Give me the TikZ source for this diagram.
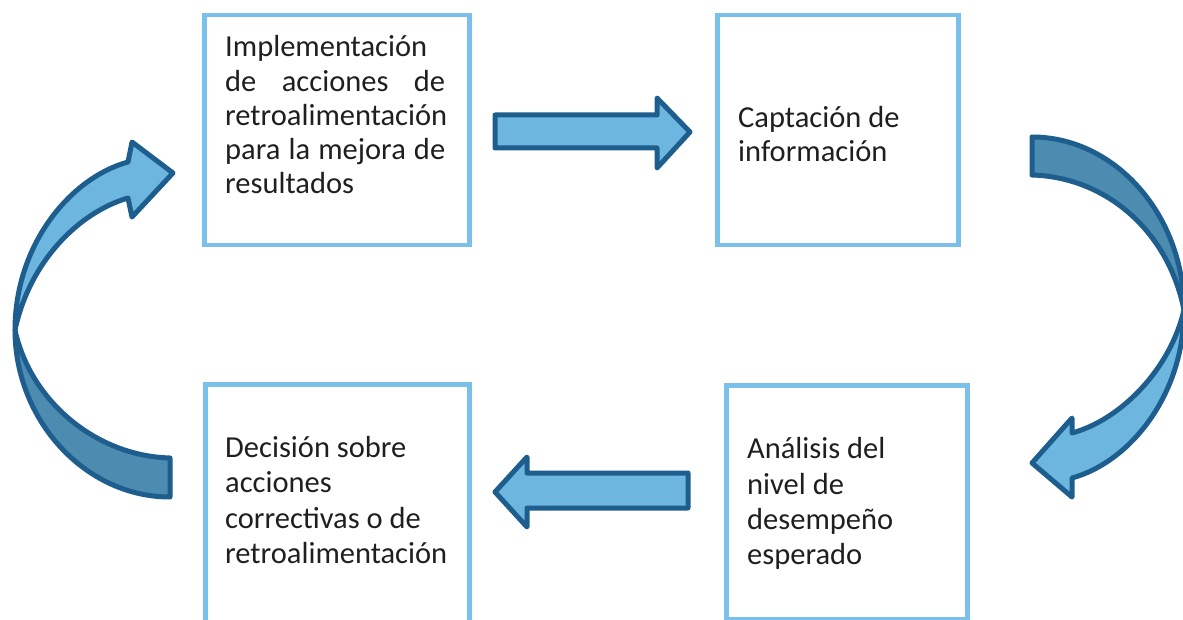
\documentclass[tikz,border=0pt]{standalone}
\usepackage{fontspec}
\setmainfont{Carlito}
\definecolor{boxblue}{RGB}{122,192,234}
\definecolor{arrline}{RGB}{30,94,142}
\definecolor{arrlight}{RGB}{108,182,224}
\definecolor{arrdark}{RGB}{76,140,176}
\begin{document}
\begin{tikzpicture}[x=1pt,y=-1pt,
  stepbox/.style={draw=boxblue,line width=4.5pt,anchor=north west,inner sep=0pt},
  txt/.style={anchor=base west,inner sep=0pt,font=\fontsize{30.5}{35}\selectfont,text=black!88},
  arr/.style={draw=arrline,line width=5pt,line join=round,fill=arrlight},
  arrd/.style={arr,fill=arrdark}]
\useasboundingbox (0,0) rectangle (1183,620);
\clip (0,0) rectangle (1183,620);

% boxes
\node[stepbox,minimum width=265pt,minimum height=230pt] (b1) at (202,13) {};
\node[stepbox,minimum width=241pt,minimum height=230pt] (b2) at (715,13) {};
\node[stepbox,minimum width=264pt,minimum height=260pt] (b3) at (203,382) {};
\node[stepbox,minimum width=241pt,minimum height=234pt] (b4) at (724,383) {};

% texts
\node[txt] (t1a) at (225,57) {Implementación};
\node[txt] (t1b) at (225,92) {\makebox[220pt][s]{de\hfill acciones\hfill de}};
\node[txt] (t1c) at (225,126) {retroalimentación};
\node[txt] (t1d) at (225,160) {\makebox[220pt][s]{para\hfill la\hfill mejora\hfill de}};
\node[txt] (t1e) at (225,194) {resultados};

\node[txt] (t2a) at (738,128) {Captación de};
\node[txt] (t2b) at (738,162) {información};

\node[txt] (t3a) at (225,457) {Decisión sobre};
\node[txt] (t3b) at (225,492) {acciones};
\node[txt] (t3c) at (225,528) {correctivas o de};
\node[txt] (t3d) at (225,563) {retroalimentación};

\node[txt] (t4a) at (747,458) {Análisis del};
\node[txt] (t4b) at (747,494) {nivel de};
\node[txt] (t4c) at (747,529) {desempeño};
\node[txt] (t4d) at (747,564) {esperado};

% straight arrows
\path[arr] (495,115) -- (657,115) -- (657,98) -- (690,132) -- (657,168) -- (657,148) -- (495,148) -- cycle;
\path[arr] (688,473) -- (527,473) -- (527,457) -- (495,492) -- (527,527) -- (527,508) -- (688,508) -- cycle;

% left curved arrow
\path[arrd] (15,330) .. controls (15,420) and (85,497) .. (170,497) -- (170,458)
  .. controls (95,456) and (30,400) .. (15,330) -- cycle;
\path[arr] (128,162) -- (132,142) -- (173,173) -- (132,217) -- (128,198)
  .. controls (80,212) and (30,260) .. (15,330)
  .. controls (15,245) and (70,178) .. (128,162) -- cycle;

% right curved arrow
\path[arrd] (1032,137) .. controls (1115,137) and (1184,215) .. (1184,310)
  .. controls (1168,230) and (1105,177) .. (1032,175) -- cycle;
\path[arr] (1184,310) .. controls (1184,395) and (1130,462) .. (1072,478)
  -- (1072,497) -- (1032,463) -- (1072,418) -- (1072,433)
  .. controls (1120,420) and (1170,370) .. (1184,310) -- cycle;
\end{tikzpicture}
\end{document}
